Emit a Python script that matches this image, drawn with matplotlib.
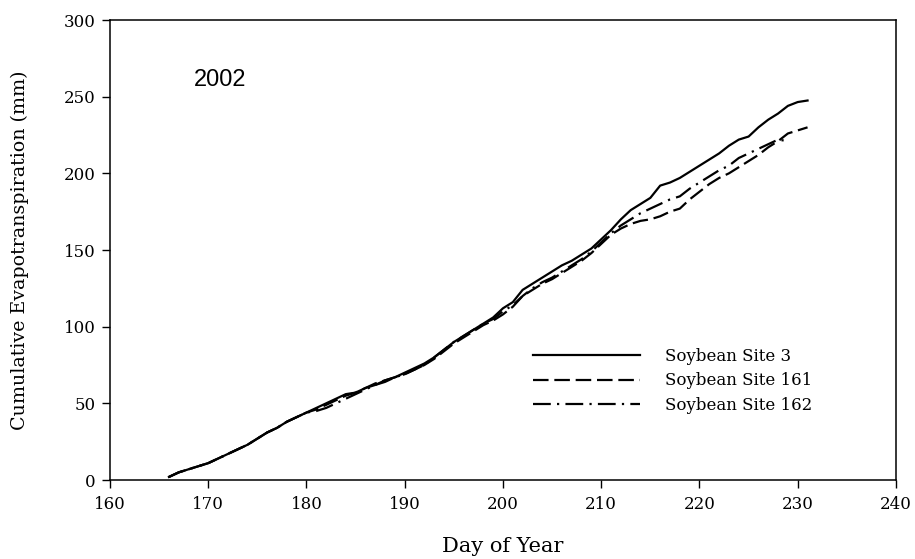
import numpy as np
import matplotlib
matplotlib.use('Agg')
import matplotlib.pyplot as plt

# cumulative ET (mm), 2002 season
days_3 = np.arange(166, 232)
et_site3 = [2, 5, 7, 9, 11, 14, 17, 20, 23, 27,
            31, 34, 38, 41, 44, 47, 50, 53, 56, 57,
            60, 62, 65, 67, 70, 73, 76, 80, 85, 90,
            94, 98, 102, 106, 112, 116, 124, 128, 132, 136,
            140, 143, 147, 151, 157, 163, 170, 176, 180, 184,
            192, 194, 197, 201, 205, 209, 213, 218, 222, 224,
            230, 235, 239, 244, 246.5, 247.5]

days_161 = np.arange(166, 232)
et_site161 = [2, 5, 7, 9, 11, 14, 17, 20, 23, 27,
              31, 34, 38, 41, 44, 46, 49, 52, 55, 57,
              60, 63, 65, 67, 69, 72, 75, 79, 84, 89,
              93, 97, 101, 104, 108, 113, 120, 124, 128, 131,
              135, 139, 143, 148, 154, 160, 164, 167, 169, 170,
              172, 175, 177, 183, 188, 193, 197, 200, 204, 208,
              212, 217, 221, 226, 228, 230]

days_162 = np.arange(166, 230)
et_site162 = [2, 5, 7, 9, 11, 14, 17, 20, 23, 27,
              31, 34, 38, 41, 44, 45, 47, 50, 53, 56,
              59, 62, 64, 67, 69, 72, 75, 80, 85, 90,
              94, 98, 102, 105, 110, 114, 120, 125, 129, 132,
              136, 140, 144, 149, 155, 161, 166, 170, 174, 177,
              180, 183, 185, 190, 194, 198, 202, 205, 210, 213,
              216, 219, 222, 221]

series_labels = ['Soybean Site 3', 'Soybean Site 161', 'Soybean Site 162']

plt.rcParams['font.family'] = 'DejaVu Serif'

fig = plt.figure(figsize=(9.15, 5.59), dpi=100)
ax = fig.add_axes([0.1202, 0.1413, 0.8590, 0.8229])

lw = 1.6
ax.plot(days_3, et_site3, color='k', lw=lw, ls='-', label=series_labels[0])
ax.plot(days_161, et_site161, color='k', lw=lw, ls=(0, (7, 2.6)), label=series_labels[1])
ax.plot(days_162, et_site162, color='k', lw=lw, ls=(0, (8, 2.8, 1, 2.8)), label=series_labels[2])

ax.set_xlim(160, 240)
ax.set_ylim(0, 300)
ax.set_xticks(np.arange(160, 241, 10))
ax.set_yticks(np.arange(0, 301, 50))
ax.tick_params(direction='out', length=5.5, width=1, labelsize=12, pad=6)
ax.tick_params(axis='y', pad=5)
for s in ax.spines.values():
    s.set_linewidth(1.1)

ax.set_xlabel('Day of Year', fontsize=15, labelpad=17)
ax.set_ylabel('Cumulative Evapotranspiration (mm)', fontsize=13.7, labelpad=25)

ax.text(171.2, 261, '2002', fontsize=17, family='Liberation Sans',
        ha='center', va='center')

ax.legend(loc='upper left', bbox_to_anchor=(0.538, 0.287), frameon=False,
          fontsize=12, handlelength=6.4, handletextpad=1.5, labelspacing=0.45,
          borderpad=0, borderaxespad=0)

fig.savefig('out.png', dpi=100)
